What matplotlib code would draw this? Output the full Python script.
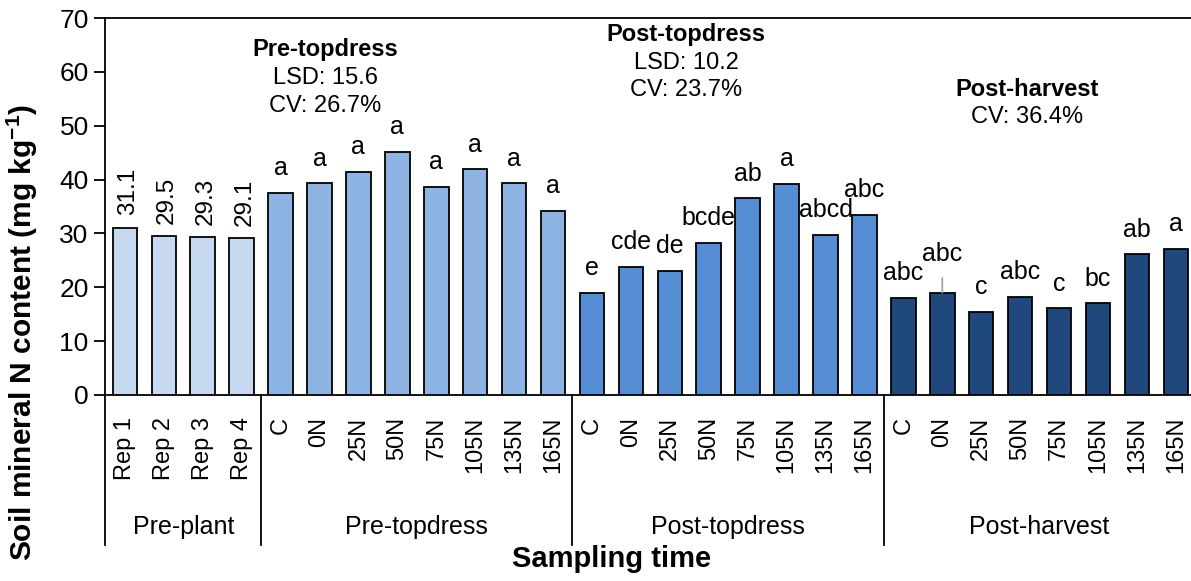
import numpy as np
import matplotlib.pyplot as plt
from matplotlib import transforms

plt.rcParams['font.family'] = ['Liberation Sans', 'DejaVu Sans']

groups = ["Pre-plant", "Pre-topdress", "Post-topdress", "Post-harvest"]
rates = ["C", "0N", "25N", "50N", "75N", "105N", "135N", "165N"]
preplant_labels = ["Rep 1", "Rep 2", "Rep 3", "Rep 4"]

preplant = [31.1, 29.5, 29.3, 29.1]
pre_topdress = [37.5, 39.3, 41.4, 45.1, 38.7, 41.9, 39.3, 34.2]
post_topdress = [19.0, 23.8, 23.0, 28.2, 36.5, 39.2, 29.8, 33.4]
post_harvest = [18.0, 19.0, 15.5, 18.2, 16.1, 17.0, 26.1, 27.2]

letters_pre_topdress = ["a"] * 8
letters_post_topdress = ["e", "cde", "de", "bcde", "ab", "a", "abcd", "abc"]
letters_post_harvest = ["abc", "abc", "c", "abc", "c", "bc", "ab", "a"]

colors = ["#C6D9F1", "#8DB4E2", "#558ED5", "#1F497D"]

fig = plt.figure(figsize=(11.91, 5.81), dpi=100)
ax = fig.add_axes([105.4 / 1191, 1 - 395 / 581, (1195.3 - 105.4) / 1191, 377 / 581])

series = [preplant, pre_topdress, post_topdress, post_harvest]
tick_labels = preplant_labels + rates * 3
x = 0
bounds = [0]
for vals, c in zip(series, colors):
    xs = np.arange(x, x + len(vals))
    ax.bar(xs, vals, width=0.63, color=c, edgecolor="black", linewidth=1.3, zorder=3)
    x += len(vals)
    bounds.append(x)

# value labels for pre-plant
for i, v in enumerate(preplant):
    ax.annotate(f"{v:.1f}", (i, v), xytext=(2, 9), textcoords="offset points",
                rotation=90, ha="center", va="bottom", fontsize=17.5)

# significance letters
letter_sets = [letters_pre_topdress, letters_post_topdress, letters_post_harvest]
for g, (vals, lets) in enumerate(zip(series[1:], letter_sets)):
    start = bounds[g + 1]
    for j, (v, t) in enumerate(zip(vals, lets)):
        dy = 12.8
        if g == 2 and j == 1:
            dy = 22.5
            ax.annotate("", (start + j, v), xytext=(start + j, v + 2.7),
                        arrowprops=dict(arrowstyle="-", color="#A6A6A6", lw=1.3,
                                        shrinkA=0, shrinkB=0))
        ax.annotate(t, (start + j, v), xytext=(0, dy), textcoords="offset points",
                    ha="center", va="baseline", fontsize=18)

# group stats
ax.text(5.15, 64.1, "Pre-topdress", ha="center", va="center", fontsize=17, fontweight="bold")
ax.text(5.15, 58.9, "LSD: 15.6", ha="center", va="center", fontsize=17)
ax.text(5.15, 53.7, "CV: 26.7%", ha="center", va="center", fontsize=17)
ax.text(14.42, 66.9, "Post-topdress", ha="center", va="center", fontsize=17, fontweight="bold")
ax.text(14.42, 61.6, "LSD: 10.2", ha="center", va="center", fontsize=17)
ax.text(14.42, 56.7, "CV: 23.7%", ha="center", va="center", fontsize=17)
ax.text(23.19, 56.8, "Post-harvest", ha="center", va="center", fontsize=17, fontweight="bold")
ax.text(23.19, 51.6, "CV: 36.4%", ha="center", va="center", fontsize=17)

ax.set_xlim(-0.5, bounds[-1] - 0.5)
ax.set_ylim(0, 70)
ax.set_yticks(np.arange(0, 71, 10))
ax.tick_params(axis="y", labelsize=19, length=8, width=1.3, direction="out", pad=4)
ax.set_xticks(np.arange(bounds[-1]))
ax.set_xticklabels(tick_labels, rotation=90, fontsize=17)
ax.tick_params(axis="x", length=0, pad=15.5)
for s in ax.spines.values():
    s.set_linewidth(1.3)

# group separators and group names below axis
trans = transforms.blended_transform_factory(ax.transData, ax.transAxes)
for b in bounds:
    ax.plot([b - 0.5, b - 0.5], [0, -0.398], color="black", lw=1.3,
            transform=trans, clip_on=False)
for g, name in enumerate(groups):
    mid = (bounds[g] + bounds[g + 1] - 1) / 2
    ax.text(mid, -0.35, name, transform=trans, ha="center", va="center", fontsize=18)

fig.text(612 / 1191, 1 - 559 / 581, "Sampling time", ha="center", va="center",
         fontsize=21, fontweight="bold")
fig.text(22 / 1191, 1 - 333 / 581, "Soil mineral N content (mg kg$^{\\mathregular{-1}}$)",
         ha="center", va="center", rotation=90, fontsize=21.5, fontweight="bold")

fig.savefig("out.png", dpi=100)
